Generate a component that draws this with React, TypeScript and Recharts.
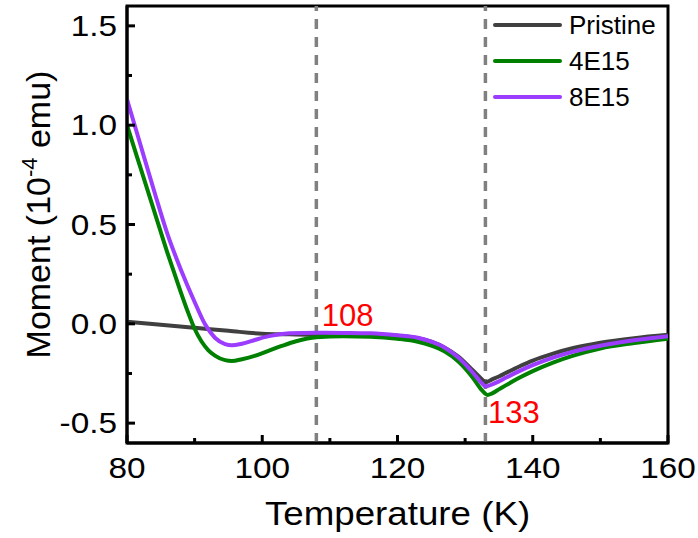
import React from 'react';
import {
  LineChart,
  Line,
  XAxis,
  YAxis,
  ReferenceLine,
  ReferenceArea,
  ReferenceDot,
  Legend,
} from 'recharts';

// temperature (K) / moment (10^-4 emu)
const pristineT = [80, 85, 90, 95, 100, 104, 108, 112, 116, 120, 123, 125, 127, 129, 131, 132.5, 133, 134, 135, 136, 138, 140, 143, 146, 150, 155, 160];
const pristineM = [0.01, -0.005, -0.02, -0.035, -0.05, -0.053, -0.055, -0.055, -0.056, -0.06, -0.072, -0.09, -0.12, -0.165, -0.23, -0.28, -0.295, -0.28, -0.265, -0.248, -0.215, -0.185, -0.15, -0.122, -0.095, -0.072, -0.055];

const e4T = [80, 82, 84, 86, 87, 88, 89, 90, 91, 92, 93, 94.5, 95.5, 97, 99, 101, 103, 105, 108, 112, 116, 120, 123, 125, 127, 129, 131, 132.5, 133.3, 134, 135, 136, 138, 140, 143, 146, 150, 155, 160];
const e4M = [1.0, 0.785, 0.57, 0.355, 0.255, 0.155, 0.06, -0.025, -0.088, -0.132, -0.16, -0.183, -0.187, -0.178, -0.16, -0.135, -0.11, -0.088, -0.068, -0.063, -0.065, -0.075, -0.09, -0.11, -0.14, -0.19, -0.265, -0.335, -0.358, -0.35, -0.33, -0.31, -0.272, -0.238, -0.195, -0.16, -0.124, -0.097, -0.075];

const e8T = [80, 82, 84, 86, 88, 90, 91.5, 93, 94.5, 95.5, 97, 99, 101, 104, 108, 112, 116, 120, 123, 125, 127, 129, 131, 132.5, 133, 134, 135, 136, 138, 140, 143, 146, 150, 155, 160];
const e8M = [1.13, 0.9, 0.67, 0.45, 0.27, 0.11, 0.0, -0.07, -0.102, -0.108, -0.1, -0.08, -0.062, -0.048, -0.045, -0.046, -0.048, -0.058, -0.07, -0.09, -0.12, -0.17, -0.24, -0.3, -0.315, -0.305, -0.29, -0.272, -0.238, -0.208, -0.17, -0.14, -0.11, -0.083, -0.062];

const xTicks = [80, 90, 100, 110, 120, 130, 140, 150, 160];
const yTicks = [-0.5, -0.25, 0, 0.25, 0.5, 0.75, 1, 1.25, 1.5];
const transitions = [108, 133];

const seriesNames = ['Pristine', '4E15', '8E15'];
const seriesColors = ['#404040', '#008000', '#9B3CFF'];

const toPoints = (ts: number[], ms: number[]) => ts.map((t, i) => ({ t, m: ms[i] }));

const FONT = '"Liberation Sans", Arial, sans-serif';

const XTick = (props: any) => {
  const { x, y, payload } = props;
  const v = payload.value;
  const major = v % 20 === 0;
  return (
    <g>
      <line x1={x} y1={y} x2={x} y2={y - (major ? 8 : 5)} stroke="#000" strokeWidth={3} />
      {major && (
        <text
          transform={`translate(${x},${y + 35}) scale(1.15,1)`}
          textAnchor="middle"
          fontFamily={FONT}
          fontSize={29}
          fill="#000"
        >
          {v}
        </text>
      )}
    </g>
  );
};

const YTick = (props: any) => {
  const { x, y, payload } = props;
  const v = payload.value;
  const major = Math.abs(v * 2 - Math.round(v * 2)) < 1e-6;
  return (
    <g>
      <line x1={x} y1={y} x2={x + (major ? 8 : 5)} y2={y} stroke="#000" strokeWidth={3} />
      {major && (
        <text
          transform={`translate(${x - 10},${y + 10}) scale(1.15,1)`}
          textAnchor="end"
          fontFamily={FONT}
          fontSize={29}
          fill="#000"
        >
          {v.toFixed(1)}
        </text>
      )}
    </g>
  );
};

const LegendBox = () => (
  <svg width={205} height={115}>
    {seriesNames.map((name, i) => (
      <g key={name}>
        <line x1={7} y1={20 + 36 * i} x2={72} y2={20 + 36 * i} stroke={seriesColors[i]} strokeWidth={4} strokeLinecap="round" />
        <text x={81} y={29 + 36 * i} fontFamily={FONT} fontSize={26} fill="#000">
          {name}
        </text>
      </g>
    ))}
  </svg>
);

const RedLabel = (text: string, dx: number) => (props: any) => {
  const { viewBox } = props;
  return (
    <text x={viewBox.x + dx} y={viewBox.y} fontFamily={FONT} fontSize={31} fill="#FF0000">
      {text}
    </text>
  );
};

export default function App() {
  const series = [toPoints(pristineT, pristineM), toPoints(e4T, e4M), toPoints(e8T, e8M)];

  return (
    <div style={{ position: 'absolute', left: 0, top: 0, width: 698, height: 538, background: '#fff' }}>
      <LineChart width={698} height={538} margin={{ top: 6, right: 30, bottom: 35, left: 67 }}>
        <XAxis
          dataKey="t"
          type="number"
          domain={[80, 160]}
          allowDataOverflow
          ticks={xTicks}
          interval={0}
          height={60}
          tickSize={0}
          tickMargin={0}
          tickLine={false}
          tick={XTick}
          axisLine={{ stroke: '#000', strokeWidth: 3 }}
          label={(p: any) => {
            const vb = p.viewBox;
            return (
              <text
                transform={`translate(${vb.x + vb.width / 2},${vb.y + 82}) scale(1.08,1)`}
                textAnchor="middle"
                fontFamily={FONT}
                fontSize={34}
                fill="#000"
              >
                Temperature (K)
              </text>
            );
          }}
        />
        <YAxis
          type="number"
          domain={[-0.6, 1.6]}
          allowDataOverflow
          ticks={yTicks}
          interval={0}
          width={60}
          tickSize={0}
          tickMargin={0}
          tickLine={false}
          tick={YTick}
          axisLine={{ stroke: '#000', strokeWidth: 3 }}
          label={(p: any) => {
            const vb = p.viewBox;
            const cy = vb.y + vb.height / 2 - 10;
            return (
              <text
                transform={`translate(50,${cy}) rotate(-90)`}
                textAnchor="middle"
                fontFamily={FONT}
                fontSize={34}
                fill="#000"
              >
                Moment (10
                <tspan dy={-13} fontSize={22}>-4</tspan>
                <tspan dy={13}> emu)</tspan>
              </text>
            );
          }}
        />
        <ReferenceArea x1={80} x2={160} y1={-0.6} y2={1.6} fill="none" stroke="#000" strokeWidth={3} />
        {transitions.map((t) => (
          <ReferenceLine key={t} x={t} stroke="#808080" strokeWidth={3.5} strokeDasharray="10 8" />
        ))}
        {series.map((d, i) => (
          <Line
            key={seriesNames[i]}
            data={d}
            dataKey="m"
            name={seriesNames[i]}
            type="monotone"
            stroke={seriesColors[i]}
            strokeWidth={4}
            dot={false}
            isAnimationActive={false}
          />
        ))}
        <ReferenceDot x={108.5} y={-0.01} r={0} fill="none" stroke="none" label={RedLabel('108', 2)} />
        <ReferenceDot x={133.4} y={-0.5} r={0} fill="none" stroke="none" label={RedLabel('133', 0)} />
        <Legend
          layout="horizontal"
          verticalAlign="middle"
          align="center"
          content={LegendBox}
          wrapperStyle={{ position: 'absolute', left: 488, top: 5, width: 205, height: 115 }}
        />
      </LineChart>
    </div>
  );
}
